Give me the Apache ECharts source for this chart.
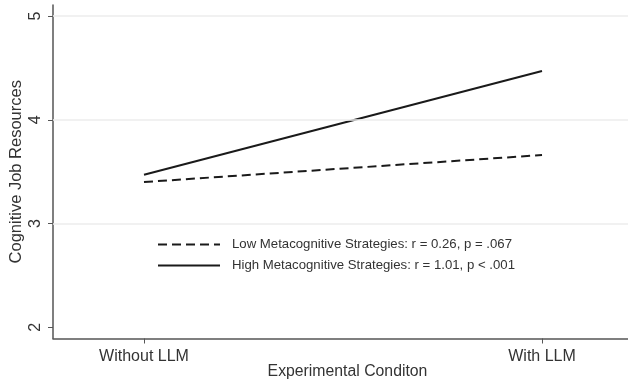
<!DOCTYPE html>
<html><head><meta charset="utf-8">
<script src="https://cdn.jsdelivr.net/npm/echarts@6/dist/echarts.min.js"></script>
<style>html,body{margin:0;padding:0;background:#fff}#c{width:628px;height:383px}</style>
</head><body><div id="c"></div>
<script>
const categories = ['Without LLM', 'With LLM'];
const lowValues = [3.40, 3.66];
const highValues = [3.47, 4.47];
const yTicks = [2, 3, 4, 5];
const gridValues = [3, 4, 5];
const seriesNames = ['Low Metacognitive Strategies: r = 0.26, p = .067', 'High Metacognitive Strategies: r = 1.01, p < .001'];

const font = 'Liberation Sans, Arial, sans-serif';
const txt = '#333';
const chart = echarts.init(document.getElementById('c'), null, {renderer: 'canvas'});
const idx = categories.map((c, i) => i);
chart.setOption({
  animation: false,
  backgroundColor: '#fff',
  grid: {left: 53, right: 0, top: 5, bottom: 44.5, containLabel: false, outerBoundsMode: 'none'},
  xAxis: {
    type: 'value', min: -0.2286, max: 1.216,
    name: 'Experimental Conditon', nameLocation: 'middle', nameGap: 25, nameMoveOverlap: false,
    nameTextStyle: {fontFamily: font, fontSize: 15.8, color: txt, padding: [0, 0, 0, 14]},
    axisLine: {show: true, onZero: false, lineStyle: {color: '#555', width: 1.5}},
    axisTick: {show: true, length: 5, customValues: idx, lineStyle: {color: '#555'}},
    axisLabel: {customValues: idx, margin: 10, fontFamily: font, fontSize: 16, color: txt,
      formatter: v => categories[Math.round(v)]},
    splitLine: {show: false}
  },
  yAxis: {
    type: 'value', min: 1.892, max: 5.106,
    name: 'Cognitive Job Resources', nameLocation: 'middle', nameGap: 28, nameMoveOverlap: false,
    nameTextStyle: {fontFamily: font, fontSize: 16.5, color: txt},
    axisLine: {show: true, onZero: false, lineStyle: {color: '#555', width: 1.5}},
    axisTick: {show: true, length: 5, customValues: yTicks, lineStyle: {color: '#555'}},
    axisLabel: {customValues: yTicks, rotate: 90, margin: 9, fontFamily: font, fontSize: 16, color: txt},
    splitLine: {show: false}
  },
  legend: {
    orient: 'vertical', left: 152, top: 233, itemWidth: 62, itemHeight: 14, itemGap: 8,
    itemStyle: {opacity: 0},
    textStyle: {fontFamily: font, fontSize: 13.2, color: txt, padding: [0, 0, 0, 7]},
    data: seriesNames
  },
  series: [
    {
      name: seriesNames[0], type: 'line', symbol: 'none',
      data: lowValues.map((v, i) => [i, v]),
      lineStyle: {color: '#1a1a1a', width: 2, type: [9, 5]},
      itemStyle: {color: '#1a1a1a'},
      markLine: {silent: true, symbol: 'none', label: {show: false},
        lineStyle: {color: '#ececec', width: 1.5, type: 'solid'},
        data: gridValues.map(v => ({yAxis: v}))},
      z: 3
    },
    {
      name: seriesNames[1], type: 'line', symbol: 'none',
      data: highValues.map((v, i) => [i, v]),
      lineStyle: {color: '#1a1a1a', width: 2, type: 'solid'},
      itemStyle: {color: '#1a1a1a'},
      z: 3
    }
  ]
});
</script></body></html>
